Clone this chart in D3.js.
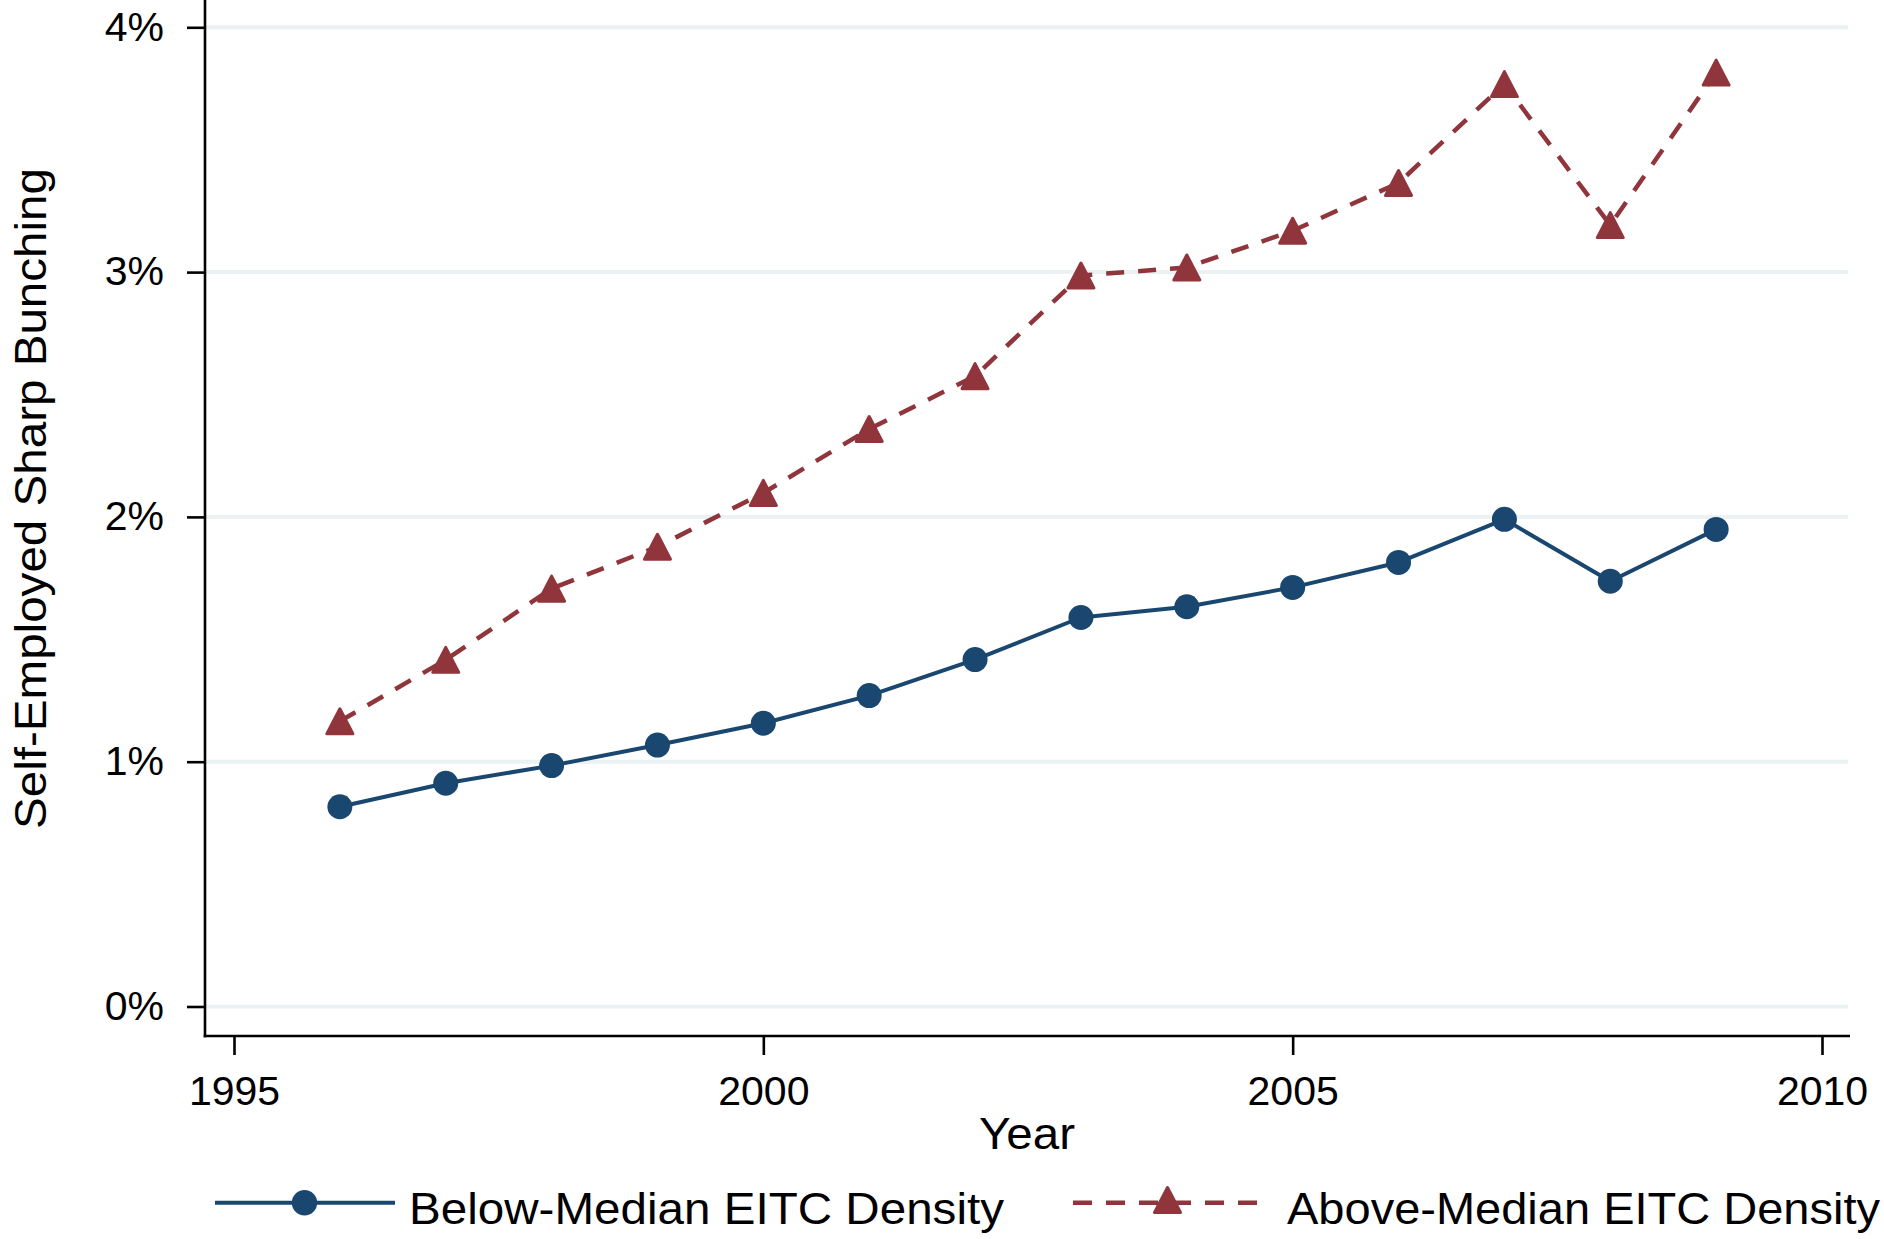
<!DOCTYPE html>
<html>
<head>
<meta charset="utf-8">
<script src="https://cdn.jsdelivr.net/npm/d3@7"></script>
<style>
  html, body { margin: 0; padding: 0; background: #fff; }
  svg { display: block; }
  text { font-family: "Liberation Sans", Arial, Helvetica, sans-serif; fill: #000; }
</style>
</head>
<body>
<script>
// Years observed
const years = [1996, 1997, 1998, 1999, 2000, 2001, 2002, 2003, 2004, 2005, 2006, 2007, 2008, 2009];
// Self-employed sharp bunching (%), by EITC density group
const belowMedian = [0.816, 0.912, 0.984, 1.068, 1.157, 1.270, 1.417, 1.589, 1.633, 1.712, 1.814, 1.990, 1.737, 1.949];
const aboveMedian = [1.165, 1.416, 1.707, 1.878, 2.098, 2.359, 2.575, 2.986, 3.019, 3.169, 3.364, 3.768, 3.192, 3.815];
// Axis ticks
const xTicks = [1995, 2000, 2005, 2010];
const yTicks = [0, 1, 2, 3, 4];
const yTickLabels = ["0%", "1%", "2%", "3%", "4%"];
const seriesNames = ["Below-Median EITC Density", "Above-Median EITC Density"];

const W = 1884, H = 1239;
const blue = "#1a476f", red = "#90353b", grid = "#eaf2f3";

const svg = d3.select("body").append("svg").attr("width", W).attr("height", H);

const x = d3.scaleLinear().domain([1995, 2010]).range([234, 1822]);
const y = d3.scaleLinear().domain([0, 4]).range([1006.5, 27.3]);

const plotLeft = 205, plotRight = 1849, plotTop = 0, plotBottom = 1036;

// horizontal gridlines
svg.append("g").selectAll("line").data(yTicks).join("line")
  .attr("x1", plotLeft + 1).attr("x2", plotRight - 1)
  .attr("y1", d => y(d)).attr("y2", d => y(d))
  .attr("stroke", grid).attr("stroke-width", 4);

// y axis
const yAxis = d3.axisLeft(y).tickValues(yTicks)
  .tickFormat((d, i) => yTickLabels[i]).tickSize(18).tickPadding(23);
const gy = svg.append("g").attr("transform", `translate(${plotLeft},0)`).call(yAxis);
gy.select(".domain").remove();
gy.selectAll(".tick line").attr("stroke", "#000").attr("stroke-width", 2.6);
gy.selectAll(".tick text").attr("font-size", 41).attr("dy", "0.31em")
  .style("font-family", "Liberation Sans, Arial, sans-serif");
svg.append("line").attr("x1", plotLeft).attr("x2", plotLeft)
  .attr("y1", plotTop).attr("y2", plotBottom + 1.3)
  .attr("stroke", "#000").attr("stroke-width", 2.6);

// x axis
const xAxis = d3.axisBottom(x).tickValues(xTicks).tickFormat(d3.format("d"))
  .tickSize(19).tickPadding(20);
const gx = svg.append("g").attr("transform", `translate(0,${plotBottom})`).call(xAxis);
gx.select(".domain").remove();
gx.selectAll(".tick line").attr("stroke", "#000").attr("stroke-width", 2.6);
gx.selectAll(".tick text").attr("font-size", 41).attr("dy", "0.72em")
  .style("font-family", "Liberation Sans, Arial, sans-serif");
svg.append("line").attr("x1", plotLeft - 1.3).attr("x2", plotRight + 1)
  .attr("y1", plotBottom).attr("y2", plotBottom)
  .attr("stroke", "#000").attr("stroke-width", 2.6);

// axis titles
svg.append("text").attr("x", (plotLeft + plotRight) / 2).attr("y", 1149)
  .attr("text-anchor", "middle").attr("font-size", 44)
  .attr("textLength", 96).attr("lengthAdjust", "spacingAndGlyphs").text("Year");
svg.append("text").attr("transform", "translate(46,498.5) rotate(-90)")
  .attr("text-anchor", "middle").attr("font-size", 44)
  .attr("textLength", 661).attr("lengthAdjust", "spacingAndGlyphs")
  .text("Self-Employed Sharp Bunching");

// series lines
const line = d3.line().x((d, i) => x(years[i])).y(d => y(d));
svg.append("path").datum(belowMedian).attr("d", line)
  .attr("fill", "none").attr("stroke", blue).attr("stroke-width", 4)
  .attr("stroke-linejoin", "round");
svg.append("path").datum(aboveMedian).attr("d", line)
  .attr("fill", "none").attr("stroke", red).attr("stroke-width", 4.5)
  .attr("stroke-dasharray", "18,14");

// triangle marker path centred on its bounding box
function tri(cx, cy) {
  const w = 26, h = 25;
  return `M${cx},${cy - h / 2}L${cx + w / 2},${cy + h / 2}L${cx - w / 2},${cy + h / 2}Z`;
}

svg.append("g").selectAll("circle").data(belowMedian).join("circle")
  .attr("cx", (d, i) => x(years[i])).attr("cy", d => y(d)).attr("r", 12.5)
  .attr("fill", blue);
svg.append("g").selectAll("path").data(aboveMedian).join("path")
  .attr("d", (d, i) => tri(x(years[i]), y(d)))
  .attr("fill", red).attr("stroke", red).attr("stroke-width", 3)
  .attr("stroke-linejoin", "round");

// legend
const legY = 1202.7;
const leg = svg.append("g");
leg.append("line").attr("x1", 215).attr("x2", 395).attr("y1", legY).attr("y2", legY)
  .attr("stroke", blue).attr("stroke-width", 4);
leg.append("circle").attr("cx", 304.5).attr("cy", legY).attr("r", 12.7).attr("fill", blue);
leg.append("text").attr("x", 409).attr("y", 1224).attr("font-size", 44)
  .attr("textLength", 595).attr("lengthAdjust", "spacingAndGlyphs").text(seriesNames[0]);

leg.append("line").attr("x1", 1073).attr("x2", 1257).attr("y1", legY).attr("y2", legY)
  .attr("stroke", red).attr("stroke-width", 4.5).attr("stroke-dasharray", "19,14");
leg.append("path").attr("d", tri(1167.5, 1200)).attr("fill", red).attr("stroke", red)
  .attr("stroke-width", 3).attr("stroke-linejoin", "round");
leg.append("text").attr("x", 1287).attr("y", 1224).attr("font-size", 44)
  .attr("textLength", 593).attr("lengthAdjust", "spacingAndGlyphs").text(seriesNames[1]);
</script>
</body>
</html>
